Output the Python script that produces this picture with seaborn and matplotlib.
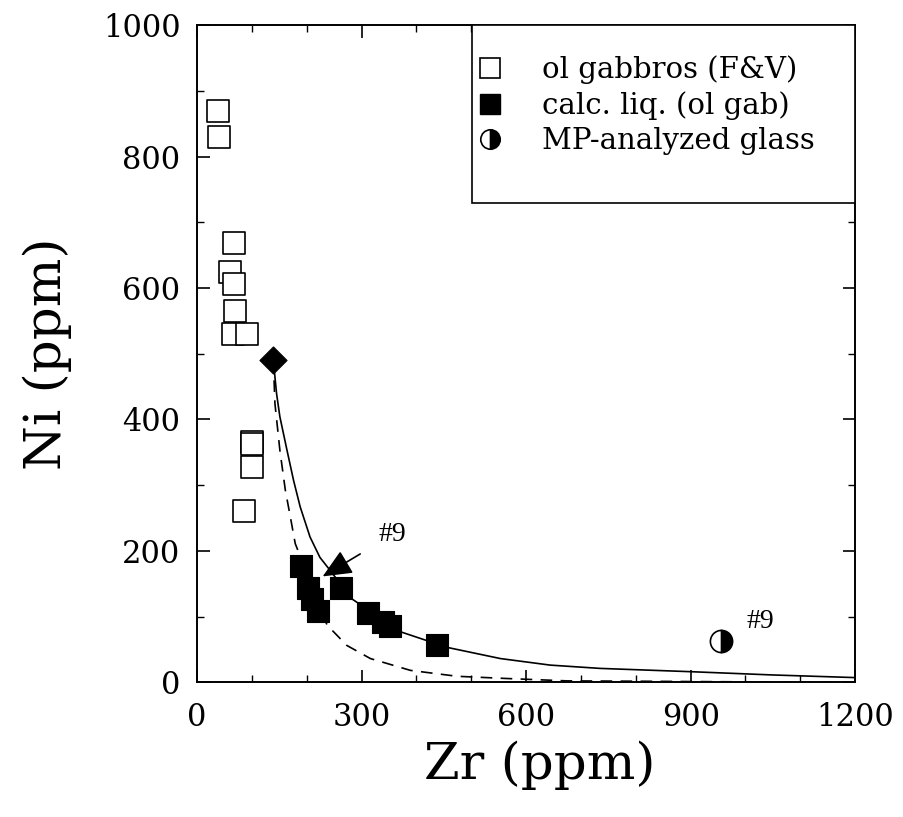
import matplotlib
matplotlib.use('Agg')
import matplotlib.pyplot as plt
import pandas as pd
import seaborn as sns
from matplotlib.lines import Line2D
from matplotlib.patches import Rectangle
from matplotlib.ticker import MultipleLocator

# ol gabbros (F&V)
gabbro_zr = [39, 40, 67, 60, 68, 69, 65, 91, 100, 100, 100, 86]
gabbro_ni = [869, 830, 669, 625, 606, 565, 530, 530, 366, 362, 327, 261]

# calc. liq. (ol gab)
liq_zr = [189, 203, 210, 220, 262, 311, 339, 352, 437]
liq_ni = [177, 144, 126, 108, 144, 106, 91, 86, 57]

# starting composition (diamond)
start_zr = [139]
start_ni = [490]

# MP-analyzed glass
glass_zr = [956]
glass_ni = [63]

# model curves
solid_zr = [139, 145, 151, 164, 176, 188, 206, 224, 240, 282, 370, 456, 553, 644, 735, 900, 1050, 1200]
solid_ni = [490, 439, 404, 353, 307, 267, 221, 190, 173, 127, 77, 53, 36, 26, 21, 16, 11, 7]
dashed_zr = [139, 142, 151, 161, 170, 179, 237, 273, 316, 389, 474, 565, 675, 800, 1000, 1200]
dashed_ni = [490, 424, 353, 292, 252, 211, 87, 56, 36, 18, 9, 5.6, 2, 1.5, 0.5, 0]

legend_labels = ['ol gabbros (F&V)', 'calc. liq. (ol gab)', 'MP-analyzed glass']

sns.set_style('ticks')
plt.rcParams['font.family'] = ['DejaVu Serif']
plt.rcParams['text.color'] = 'black'
plt.rcParams['axes.labelcolor'] = 'black'
plt.rcParams['xtick.direction'] = 'in'
plt.rcParams['ytick.direction'] = 'in'
plt.rcParams['xtick.top'] = True
plt.rcParams['ytick.right'] = True

fig = plt.figure(figsize=(9.04, 8.17), dpi=100)
ax = fig.add_axes([0.218, 0.165, 0.728, 0.804])

solid = pd.DataFrame({'zr': solid_zr, 'ni': solid_ni})
dashed = pd.DataFrame({'zr': dashed_zr, 'ni': dashed_ni})
sns.lineplot(data=solid, x='zr', y='ni', sort=False, color='black', lw=1.2, ax=ax, zorder=2)
sns.lineplot(data=dashed, x='zr', y='ni', sort=False, color='black', lw=1.2,
             dashes=False, ax=ax, zorder=2)
ax.lines[-1].set_dashes((7, 5))

sns.scatterplot(x=gabbro_zr, y=gabbro_ni, marker='s', s=240, facecolor='white',
                edgecolor='black', linewidth=1.2, ax=ax, zorder=3)
sns.scatterplot(x=liq_zr, y=liq_ni, marker='s', s=240, color='black',
                edgecolor='black', linewidth=0.8, ax=ax, zorder=4)
sns.scatterplot(x=start_zr, y=start_ni, marker='D', s=190, color='black',
                edgecolor='black', linewidth=0.8, ax=ax, zorder=4)
ax.plot(glass_zr, glass_ni, marker='o', ms=16, ls='none', fillstyle='right',
        mfc='black', mfcalt='white', mec='black', mew=1.2, zorder=4)

ax.annotate('#9', xy=(229, 161), xytext=(357, 225), ha='center', va='center',
            fontsize=20, family='Liberation Serif',
            arrowprops=dict(arrowstyle='-|>,head_length=0.9,head_width=0.4',
                            color='black', lw=1.2, shrinkA=13, shrinkB=0))
ax.text(1028, 93, '#9', ha='center', va='center', fontsize=20, family='Liberation Serif')

ax.set_xlim(0, 1200)
ax.set_ylim(0, 1000)
ax.xaxis.set_major_locator(MultipleLocator(300))
ax.xaxis.set_minor_locator(MultipleLocator(100))
ax.yaxis.set_major_locator(MultipleLocator(200))
ax.yaxis.set_minor_locator(MultipleLocator(100))
ax.tick_params(which='major', length=9, width=1.2, colors='black')
ax.tick_params(which='minor', length=5, width=1.0, colors='black')
ax.tick_params(axis='x', labelsize=22, pad=14)
ax.tick_params(axis='y', labelsize=22, pad=12)
for sp in ax.spines.values():
    sp.set_linewidth(1.4)
    sp.set_color('black')

ax.set_xlabel('Zr (ppm)', fontsize=37, labelpad=6)
ax.xaxis.label.set_x(0.52)
ax.set_ylabel('Ni (ppm)', fontsize=37, labelpad=22)

# legend frame drawn separately so it can reach below the last row
ax.add_patch(Rectangle((0.418, 0.729), 0.582, 0.271, transform=ax.transAxes,
                       facecolor='white', edgecolor='black', lw=1.2, zorder=5))
handles = [
    Line2D([], [], marker='s', ms=14, ls='none', mfc='white', mec='black', mew=1.2),
    Line2D([], [], marker='s', ms=14, ls='none', mfc='black', mec='black'),
    Line2D([], [], marker='o', ms=14, ls='none', fillstyle='right', mfc='black',
           mfcalt='white', mec='black', mew=1.2),
]
leg = ax.legend(handles, legend_labels, loc='upper left',
                bbox_to_anchor=(0.394, 0.997), borderaxespad=0,
                fontsize=21, frameon=False, handlelength=0.4, handletextpad=1.6,
                labelspacing=0.25, borderpad=0.95, labelcolor='black')
leg.set_zorder(6)

fig.savefig('out.png', dpi=100)
